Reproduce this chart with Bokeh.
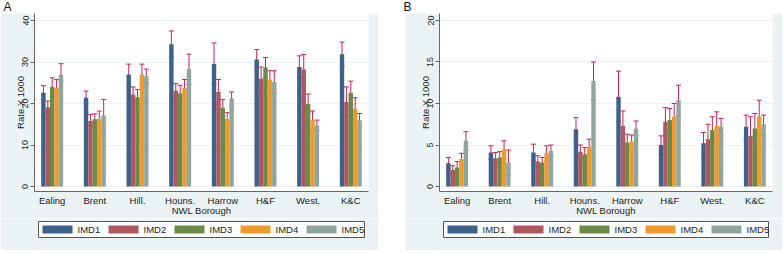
from bokeh.plotting import figure
from bokeh.models import (ColumnDataSource, Whisker, TeeHead, FixedTicker, Range1d, Spacer)
from bokeh.layouts import row, column
from bokeh.embed import file_html
from bokeh.resources import INLINE
from bokeh.core.properties import value

boroughs = ["Ealing", "Brent", "Hill.", "Houns.", "Harrow", "H&F", "West.", "K&C"]
imd_labels = ["IMD1", "IMD2", "IMD3", "IMD4", "IMD5"]
imd_colors = ["#3d6189", "#b0585f", "#6b8a47", "#f09a2e", "#8fa69e"]

# Panel A: rate x 1000, with lower / upper confidence limits
a_imd1 = [22.6, 21.4, 27.0, 34.3, 29.5, 30.6, 28.8, 31.9]
a_imd1_lo = [21.0, 19.9, 24.2, 31.2, 24.6, 28.3, 26.2, 29.0]
a_imd1_hi = [24.3, 23.0, 29.5, 37.5, 34.6, 33.0, 31.5, 34.8]
a_imd2 = [19.1, 15.8, 22.2, 23.1, 22.8, 26.0, 28.2, 20.4]
a_imd2_lo = [17.8, 14.6, 20.6, 21.4, 19.8, 23.4, 24.6, 17.0]
a_imd2_hi = [20.6, 17.4, 24.0, 24.8, 25.8, 28.8, 31.8, 24.0]
a_imd3 = [24.0, 16.2, 21.5, 22.4, 19.0, 28.7, 19.9, 22.6]
a_imd3_lo = [21.8, 14.6, 19.8, 20.6, 17.0, 26.2, 17.8, 19.8]
a_imd3_hi = [26.2, 17.5, 23.4, 24.4, 21.0, 31.1, 22.3, 25.4]
a_imd4 = [23.8, 16.3, 27.0, 23.8, 16.3, 25.8, 16.0, 18.8]
a_imd4_lo = [21.8, 14.4, 24.7, 21.6, 15.0, 23.5, 13.9, 16.0]
a_imd4_hi = [25.8, 18.2, 29.5, 25.8, 17.8, 27.9, 18.2, 21.4]
a_imd5 = [27.0, 17.1, 26.6, 28.3, 21.2, 25.2, 14.7, 16.0]
a_imd5_lo = [25.4, 13.4, 25.0, 24.6, 19.4, 22.4, 13.5, 14.4]
a_imd5_hi = [29.6, 21.0, 28.3, 31.9, 22.8, 27.9, 16.0, 17.6]
a_ticks = [0, 10, 20, 30, 40]

# Panel B
b_imd1 = [2.8, 4.1, 4.1, 6.9, 10.8, 5.0, 5.2, 7.2]
b_imd1_lo = [2.2, 3.3, 3.1, 5.5, 7.8, 3.9, 3.9, 5.7]
b_imd1_hi = [3.5, 4.9, 5.1, 8.3, 13.9, 6.1, 6.5, 8.6]
b_imd2 = [2.0, 3.4, 3.0, 4.2, 7.3, 7.8, 5.7, 6.1]
b_imd2_lo = [1.6, 2.8, 2.5, 3.5, 5.5, 6.1, 3.9, 3.8]
b_imd2_hi = [2.5, 4.1, 3.7, 5.0, 9.1, 9.5, 7.5, 8.4]
b_imd3 = [2.3, 3.5, 2.9, 3.9, 5.3, 8.0, 6.8, 7.0]
b_imd3_lo = [1.6, 2.9, 2.2, 3.1, 4.3, 6.5, 5.3, 5.3]
b_imd3_hi = [3.0, 4.2, 3.5, 4.7, 6.3, 9.4, 8.4, 8.8]
b_imd4 = [3.3, 4.5, 4.0, 4.8, 5.4, 8.4, 7.3, 8.4]
b_imd4_lo = [2.6, 3.3, 3.1, 3.9, 4.5, 7.0, 5.6, 6.3]
b_imd4_hi = [4.0, 5.5, 4.9, 5.7, 6.2, 10.0, 9.0, 10.4]
b_imd5 = [5.5, 2.9, 4.3, 12.7, 7.0, 10.4, 7.2, 7.5]
b_imd5_lo = [4.4, 1.4, 3.7, 10.4, 6.1, 8.5, 6.1, 6.2]
b_imd5_hi = [6.6, 4.4, 5.0, 15.0, 7.9, 12.2, 8.2, 8.6]
b_ticks = [0, 5, 10, 15, 20]

FONT = "Liberation Sans"
BG = "#eaf2f3"
ERR = "#cc2152"
BW = 0.103


def make_panel(rates, los, his, ticks, yr, width, x_label, y_label):
    p = figure(width=width, height=205,
               x_range=Range1d(-0.415, 7.415), y_range=Range1d(*yr),
               output_backend="svg", toolbar_location=None,
               min_border_left=34, min_border_right=10, min_border_top=0, min_border_bottom=26)
    p.background_fill_color = "white"
    p.border_fill_color = BG
    p.outline_line_color = None
    for j in range(5):
        xs = [i + (j - 2) * BW for i in range(len(boroughs))]
        src = ColumnDataSource(dict(x=xs, top=rates[j], lo=los[j], hi=his[j]))
        p.vbar(x="x", top="top", bottom=0, width=BW, source=src,
               fill_color=imd_colors[j], line_color=None)
        w = Whisker(source=src, base="x", lower="lo", upper="hi", dimension="height",
                    line_color=ERR, line_width=1,
                    upper_head=TeeHead(size=5, line_color=ERR, line_width=1),
                    lower_head=TeeHead(size=5, line_color=ERR, line_width=1))
        p.add_layout(w)

    p.xgrid.visible = False
    p.ygrid.grid_line_color = BG
    p.yaxis.ticker = FixedTicker(ticks=ticks)
    p.yaxis.major_label_orientation = "vertical"
    p.yaxis.minor_tick_line_color = None
    p.yaxis.major_tick_out = 4
    p.yaxis.major_tick_in = 0
    p.yaxis.major_label_standoff = 2
    p.yaxis.axis_label = y_label
    p.yaxis.axis_label_standoff = -6

    p.xaxis.ticker = FixedTicker(ticks=list(range(len(boroughs))))
    p.xaxis.major_label_overrides = {i: b for i, b in enumerate(boroughs)}
    p.xaxis.minor_tick_line_color = None
    p.xaxis.major_tick_out = 0
    p.xaxis.major_tick_in = 0
    p.xaxis.minor_tick_out = 0
    p.xaxis.minor_tick_in = 0
    p.xaxis.major_label_standoff = 3
    p.xaxis.axis_label = x_label
    p.xaxis.axis_label_standoff = -4

    for ax in (p.xaxis, p.yaxis):
        ax.axis_line_color = "#666666"
        ax.major_label_text_font = FONT
        ax.axis_label_text_font = FONT
        ax.axis_label_text_font_style = "normal"
        ax.axis_label_text_font_size = "9.5px"
        ax.axis_label_text_color = "#222222"
        ax.major_label_text_color = "#222222"
    p.yaxis.major_tick_line_color = "#666666"
    p.xaxis.major_tick_line_color = None
    p.yaxis.major_label_text_font_size = "9px"
    p.xaxis.major_label_text_font_size = "9.5px"
    return p


def make_legend(width):
    # legend strip; its frame is aligned with the panel frame above (34 px left border)
    fw = width - 44
    q = figure(width=width, height=32, x_range=Range1d(0, fw), y_range=Range1d(0, 32),
               output_backend="svg", toolbar_location=None, x_axis_type=None, y_axis_type=None,
               min_border_left=34, min_border_right=10, min_border_top=0, min_border_bottom=0)
    q.background_fill_color = BG
    q.border_fill_color = BG
    q.outline_line_color = None
    q.grid.visible = False
    q.quad(left=[4], right=[fw - 4], bottom=[13], top=[29], fill_color="white",
           line_color="#555555", line_width=1)
    pitch = 66
    n = len(imd_labels)
    q.quad(left=[8 + pitch * k for k in range(n)], right=[38 + pitch * k for k in range(n)],
           bottom=[17] * n, top=[25] * n, fill_color=imd_colors, line_color=None)
    q.text(x=[43 + pitch * k for k in range(n)], y=[21] * n, text=imd_labels,
           text_font=value(FONT), text_font_size="9.5px", text_baseline="middle",
           text_align="left", text_color="#222222")
    return q


pA = make_panel([a_imd1, a_imd2, a_imd3, a_imd4, a_imd5],
                [a_imd1_lo, a_imd2_lo, a_imd3_lo, a_imd4_lo, a_imd5_lo],
                [a_imd1_hi, a_imd2_hi, a_imd3_hi, a_imd4_hi, a_imd5_hi],
                a_ticks, (-1.2, 41.7), 378, "NWL Borough", "Rate X 1000")
pB = make_panel([b_imd1, b_imd2, b_imd3, b_imd4, b_imd5],
                [b_imd1_lo, b_imd2_lo, b_imd3_lo, b_imd4_lo, b_imd5_lo],
                [b_imd1_hi, b_imd2_hi, b_imd3_hi, b_imd4_hi, b_imd5_hi],
                b_ticks, (-0.6, 20.84), 377, "NWL Borough", "Rate X 1000")
legA = make_legend(378)
legB = make_legend(377)

panel_names = ["A", "B"]
header = figure(width=784, height=13, x_range=Range1d(0, 784), y_range=Range1d(0, 13),
                output_backend="svg", toolbar_location=None, x_axis_type=None, y_axis_type=None,
                min_border=0)
header.outline_line_color = None
header.grid.visible = False
header.text(x=[3, 403], y=[6.5, 6.5], text=panel_names, text_font=value(FONT),
            text_font_size="12px", text_baseline="middle", text_align="left", text_color="#111111")

layout = column(header, row(column(pA, legA), Spacer(width=27, height=237), column(pB, legB)))
open("out.html", "w").write(file_html(layout, INLINE))
